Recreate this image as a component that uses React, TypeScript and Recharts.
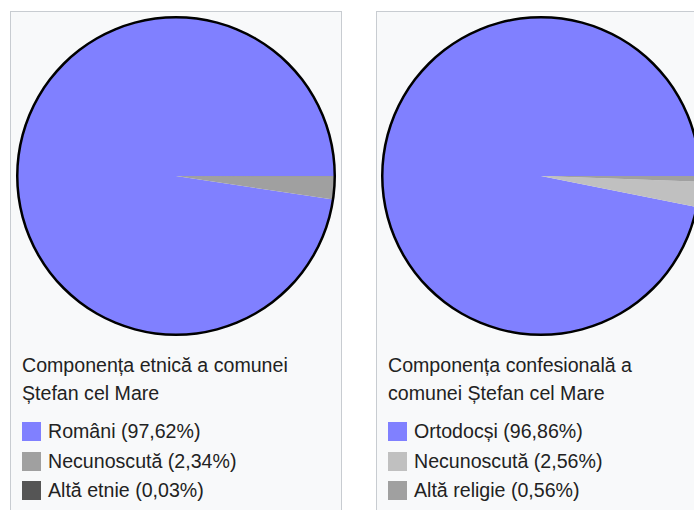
import { PieChart, Pie, Cell } from "recharts";

// ethnic composition
const ethnicLabels = ["Români", "Necunoscută", "Altă etnie"];
const ethnicValues = [97.62, 2.34, 0.03];
const ethnicColors = ["#8080ff", "#a0a0a0", "#555555"];
const ethnicTitle = "Componența etnică a comunei Ștefan cel Mare";

// religious composition
const religionLabels = ["Ortodocși", "Necunoscută", "Altă religie"];
const religionValues = [96.86, 2.56, 0.56];
const religionColors = ["#8080ff", "#c0c0c0", "#a0a0a0"];
const religionTitle = "Componența confesională a comunei Ștefan cel Mare";

const FONT = '"Liberation Sans", Arial, sans-serif';

const fmt = (v: number) => `${v.toFixed(2).replace(".", ",")}%`;

interface PanelProps {
  left: number;
  cx: number;
  title: string;
  labels: string[];
  values: number[];
  colors: string[];
}

function Panel({ left, cx, title, labels, values, colors }: PanelProps) {
  const data = labels.map((name, i) => ({ name, value: values[i] }));
  const ring = [{ name: "outline", value: 1 }];

  return (
    <div
      style={{
        position: "absolute",
        left,
        top: 11,
        width: 330,
        height: 520,
        border: "1px solid #c8ccd1",
        background: "#f8f9fa",
      }}
    >
      <div style={{ position: "absolute", left: 0, top: 0 }}>
        <PieChart width={330} height={330} margin={{ top: 0, right: 0, bottom: 0, left: 0 }}>
          <Pie
            data={data}
            dataKey="value"
            cx={cx}
            cy={164}
            outerRadius={159}
            startAngle={0}
            endAngle={360}
            stroke="none"
            isAnimationActive={false}
          >
            {data.map((d, i) => (
              <Cell key={d.name} fill={colors[i]} />
            ))}
          </Pie>
          <Pie
            data={ring}
            dataKey="value"
            cx={cx}
            cy={164}
            innerRadius={157.5}
            outerRadius={160}
            fill="#000"
            stroke="none"
            isAnimationActive={false}
          />
        </PieChart>
      </div>
      <div
        style={{
          position: "absolute",
          left: 11,
          top: 339,
          width: 305,
          fontFamily: FONT,
          fontSize: 19.6,
          lineHeight: "28px",
          color: "#222",
        }}
      >
        {title}
      </div>
      <div style={{ position: "absolute", left: 11, top: 405, fontFamily: FONT, fontSize: 19.6, color: "#222" }}>
        {labels.map((name, i) => (
          <div key={name} style={{ display: "flex", alignItems: "center", height: 29.5 }}>
            <span
              style={{
                display: "inline-block",
                width: 19,
                height: 19,
                background: colors[i],
                marginRight: 7,
              }}
            />
            <span>{`${name} (${fmt(values[i])})`}</span>
          </div>
        ))}
      </div>
    </div>
  );
}

export default function App() {
  return (
    <div
      style={{
        position: "fixed",
        left: 0,
        top: 0,
        width: 694,
        height: 510,
        overflow: "hidden",
        background: "#fff",
      }}
    >
      <Panel left={10} cx={165} title={ethnicTitle} labels={ethnicLabels} values={ethnicValues} colors={ethnicColors} />
      <Panel left={376} cx={164} title={religionTitle} labels={religionLabels} values={religionValues} colors={religionColors} />
    </div>
  );
}
